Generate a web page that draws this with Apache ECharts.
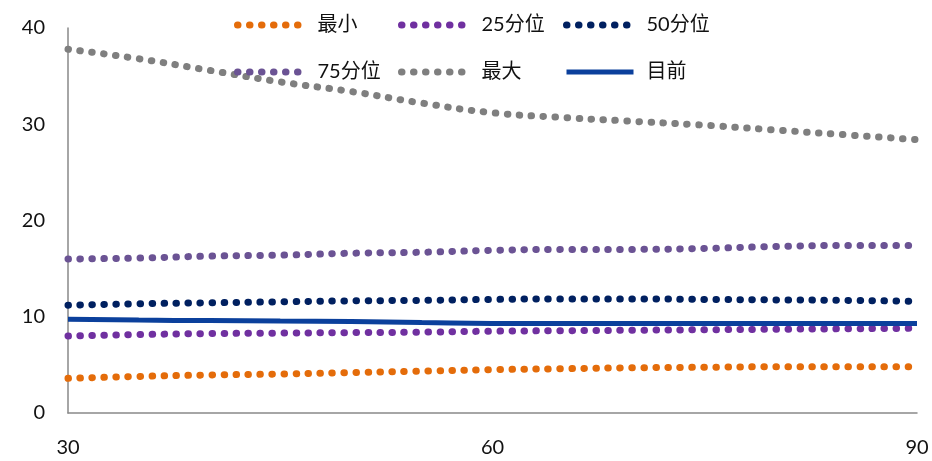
<!DOCTYPE html>
<html><head><meta charset="utf-8">
<script src="https://cdn.jsdelivr.net/npm/echarts@6/dist/echarts.min.js"></script>
<style>html,body{margin:0;padding:0;background:#fff}#c{width:932px;height:461px}</style>
</head><body><div id="c"></div>
<script>
const xValues = [30,35,40,45,50,55,60,65,70,75,80,85,90];
const minVals = [3.6,3.8,3.95,4.05,4.2,4.35,4.5,4.6,4.7,4.75,4.8,4.8,4.8];
const p25Vals = [8.0,8.15,8.25,8.3,8.35,8.4,8.5,8.55,8.6,8.65,8.7,8.75,8.8];
const p50Vals = [11.2,11.35,11.45,11.55,11.65,11.7,11.8,11.85,11.85,11.8,11.75,11.7,11.6];
const p75Vals = [16.0,16.1,16.3,16.4,16.6,16.7,16.9,17.0,17.0,17.1,17.3,17.4,17.4];
const maxVals = [37.8,36.8,35.6,34.4,33.4,32.2,31.2,30.7,30.3,29.9,29.4,28.9,28.4];
const curVals = [9.75,9.65,9.6,9.55,9.5,9.4,9.3,9.3,9.3,9.3,9.3,9.3,9.3];
const xTicks = [30,60,90];
const yTicks = [0,10,20,30,40];

const names = ['最小','25分位','50分位','75分位','最大','目前'];
const colors = ['#E46C0A','#7030A0','#002060','#6B5394','#7F7F7F','#0B409C'];
const valsList = [minVals,p25Vals,p50Vals,p75Vals,maxVals,curVals];
const font = 'Lato, "Noto Sans CJK SC", sans-serif';

const dotStyle = c => ({color:c, width:7, type:[0.5,11.5], cap:'round'});

const series = names.map((n,i)=>({
  name:n, type:'line', smooth:true, symbol:'none',
  data: xValues.map((x,j)=>[x, valsList[i][j]]),
  lineStyle: i===5 ? {color:colors[i], width:5} : dotStyle(colors[i]),
  itemStyle:{color:colors[i]},
  z: i===5 ? 3 : 2
}));

const legendPos = [[234,15],[398,15],[563,15],[234,62],[398,62],[564,62]];
const legends = names.map((n,i)=>({
  data:[{name:n, itemStyle:{opacity:0}}],
  left:legendPos[i][0], top:legendPos[i][1], padding:0,
  itemWidth:67, itemHeight:20, itemGap:0,
  lineStyle: i===5 ? {color:colors[i], width:5} : dotStyle(colors[i]),
  textStyle:{fontSize:20, color:'#111', fontFamily:font, padding:[0,0,0,8]}
}));

const chart = echarts.init(document.getElementById('c'));
chart.setOption({
  animation:false,
  backgroundColor:'#fff',
  legend: legends,
  grid:{left:68, right:15, top:28, bottom:48, containLabel:false},
  xAxis:{type:'value', min:30, max:90, interval:30,
    axisLine:{lineStyle:{color:'#898989', width:1.5}},
    axisTick:{show:false}, splitLine:{show:false},
    axisLabel:{fontSize:20, color:'#111', fontFamily:font, margin:25,
      formatter:v=>xTicks.includes(v)?String(v):''}},
  yAxis:{type:'value', min:0, max:40, interval:10,
    axisLine:{show:true, lineStyle:{color:'#898989', width:1.5}},
    axisTick:{show:false}, splitLine:{show:false},
    axisLabel:{fontSize:20, color:'#111', fontFamily:font, margin:23,
      formatter:v=>yTicks.includes(v)?String(v):''}},
  series: series
});
</script></body></html>
